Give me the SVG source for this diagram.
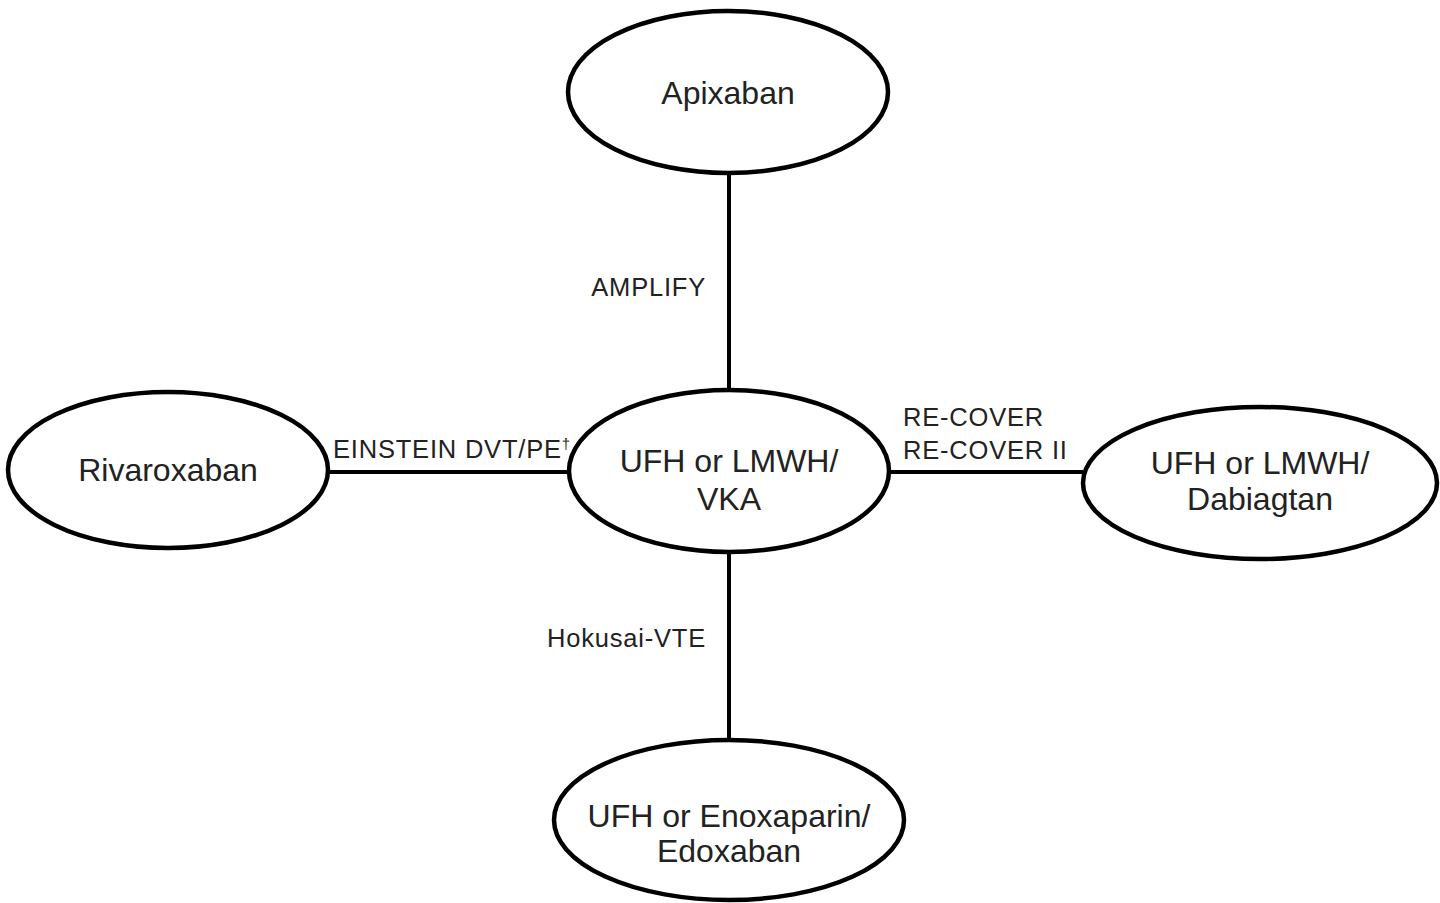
<svg xmlns="http://www.w3.org/2000/svg" width="1440" height="903" viewBox="0 0 1440 903">
<style>
.node ellipse{fill:#fff;stroke:#000;stroke-width:4.5}
.node text{font-family:"Liberation Sans",Arial,sans-serif;font-size:32px;fill:#222;text-anchor:middle}
.conn line{stroke:#000;stroke-width:4}
.lbl{font-family:"Liberation Sans",Arial,sans-serif;font-size:25.5px;letter-spacing:0.8px;fill:#222}
</style>
<rect width="1440" height="903" fill="#fff"/>
<g id="connectors" class="conn">
<line x1="729" y1="173" x2="729" y2="390"/>
<line x1="729" y1="553" x2="729" y2="740"/>
<line x1="328" y1="472" x2="570" y2="472"/>
<line x1="889" y1="472" x2="1083" y2="472"/>
<text class="lbl" x="706" y="296" text-anchor="end">AMPLIFY</text>
<text class="lbl" x="333" y="458">EINSTEIN DVT/PE<tspan font-size="15" dy="-9" letter-spacing="0">†</tspan></text>
<text class="lbl" x="903" y="426">RE-COVER</text>
<text class="lbl" x="903" y="459">RE-COVER II</text>
<text class="lbl" x="706" y="647" text-anchor="end">Hokusai-VTE</text>
</g>
<g id="apixaban" class="node"><ellipse cx="728" cy="92" rx="160" ry="81"/><text x="728" y="104">Apixaban</text></g>
<g id="vka" class="node"><ellipse cx="729" cy="471" rx="160" ry="81"/><text x="729" y="472">UFH or LMWH/</text><text x="729" y="510">VKA</text></g>
<g id="rivaroxaban" class="node"><ellipse cx="168" cy="470" rx="160" ry="78"/><text x="168" y="481">Rivaroxaban</text></g>
<g id="dabigatran" class="node"><ellipse cx="1260" cy="483" rx="177" ry="76"/><text x="1260" y="474">UFH or LMWH/</text><text x="1260" y="510">Dabiagtan</text></g>
<g id="edoxaban" class="node"><ellipse cx="729" cy="820" rx="175" ry="80"/><text x="729" y="827">UFH or Enoxaparin/</text><text x="729" y="862">Edoxaban</text></g>
</svg>
